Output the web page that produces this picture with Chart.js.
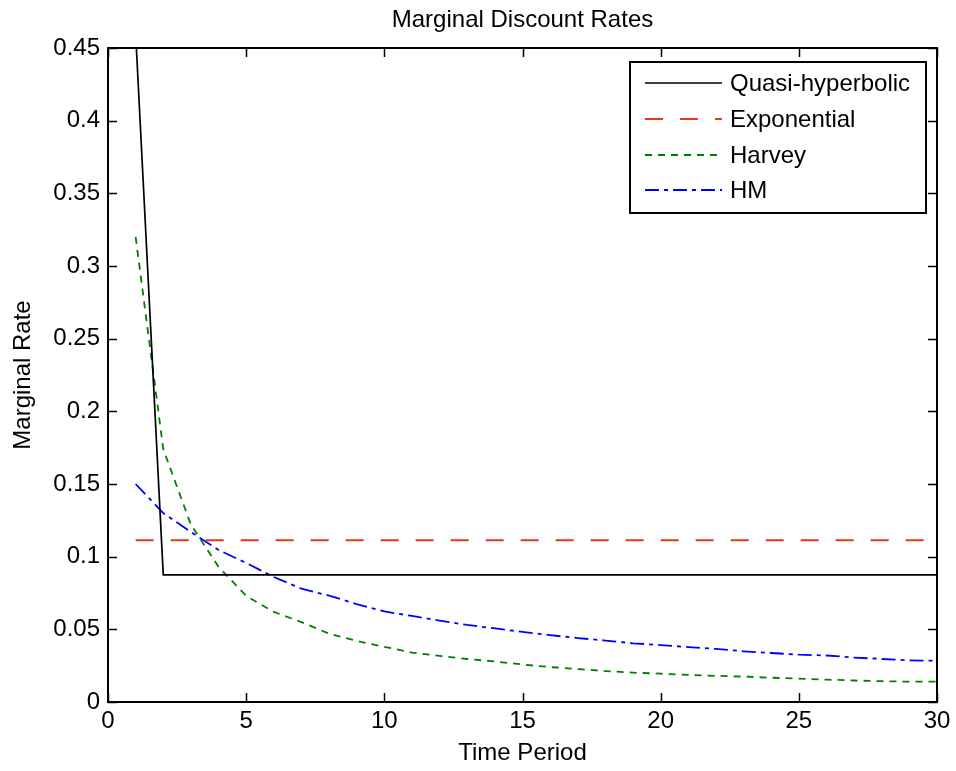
<!DOCTYPE html>
<html>
<head>
<meta charset="utf-8">
<script src="https://cdn.jsdelivr.net/npm/chart.js@4.4.1/dist/chart.umd.min.js"></script>
<style>
    html, body { margin: 0; padding: 0; background: #fff; }
    #wrap { width: 956px; height: 771px; }
</style>
</head>
<body>
<div id="wrap"><canvas id="rateChart" width="956" height="771"></canvas></div>
<script>
const periods = [1,2,3,4,5,6,7,8,9,10,11,12,13,14,15,16,17,18,19,20,21,22,23,24,25,26,27,28,29,30];

const quasiHyperbolic = [0.46,0.0875,0.0875,0.0875,0.0875,0.0875,0.0875,0.0875,0.0875,0.0875,
    0.0875,0.0875,0.0875,0.0875,0.0875,0.0875,0.0875,0.0875,0.0875,0.0875,
    0.0875,0.0875,0.0875,0.0875,0.0875,0.0875,0.0875,0.0875,0.0875,0.0875];
const exponential = [0.1113,0.1113,0.1113,0.1113,0.1113,0.1113,0.1113,0.1113,0.1113,0.1113,
    0.1113,0.1113,0.1113,0.1113,0.1113,0.1113,0.1113,0.1113,0.1113,0.1113,
    0.1113,0.1113,0.1113,0.1113,0.1113,0.1113,0.1113,0.1113,0.1113,0.1113];
const harvey = [0.32,0.174,0.122,0.093,0.073,0.062,0.055,0.047,0.042,0.038,
    0.034,0.0317,0.0296,0.0279,0.0258,0.024,0.0227,0.0213,0.0202,0.0195,
    0.0186,0.018,0.0175,0.0167,0.0161,0.0154,0.0148,0.0143,0.014,0.014];
const hm = [0.150,0.130,0.117,0.1046,0.0957,0.086,0.078,0.0732,0.0674,0.0623,
    0.0592,0.056,0.053,0.0506,0.0483,0.046,0.044,0.0423,0.0404,0.0392,
    0.0378,0.0365,0.0349,0.0337,0.0326,0.032,0.0306,0.0296,0.0286,0.0284];

const seriesNames = ['Quasi-hyperbolic', 'Exponential', 'Harvey', 'HM'];
const xTickLabels = ['0', '5', '10', '15', '20', '25', '30'];
const yTickLabels = ['0', '0.05', '0.1', '0.15', '0.2', '0.25', '0.3', '0.35', '0.4', '0.45'];

const FONT = '"Liberation Sans", Arial, Helvetica, sans-serif';

function toPoints(values) {
    return values.map(function(v, i) { return {x: periods[i], y: v}; });
}

const data = {
    datasets: [{
        label: seriesNames[0],
        data: toPoints(quasiHyperbolic),
        borderColor: '#000000',
        borderWidth: 1.7,
        borderDash: []
    }, {
        label: seriesNames[1],
        data: toPoints(exponential),
        borderColor: 'rgb(230,56,22)',
        borderWidth: 1.8,
        borderDash: [18, 17]
    }, {
        label: seriesNames[2],
        data: toPoints(harvey),
        borderColor: 'rgb(0,128,0)',
        borderWidth: 1.8,
        borderDash: [7, 6]
    }, {
        label: seriesNames[3],
        data: toPoints(hm),
        borderColor: '#0000ff',
        borderWidth: 1.8,
        borderDash: [14, 5, 4, 5]
    }]
};

// box, inward ticks, title, axis titles and legend like a matlab figure
const matlabFrame = {
    id: 'matlabFrame',
    afterDatasetsDraw(chart) {
        const ctx = chart.ctx;
        const a = chart.chartArea;
        const xs = chart.scales.x;
        const ys = chart.scales.y;
        const tick = 9;

        ctx.save();
        ctx.strokeStyle = '#000';
        ctx.lineWidth = 1.5;
        ctx.beginPath();
        xs.ticks.forEach(function(t) {
            const px = Math.round(xs.getPixelForValue(t.value)) + 0.5;
            ctx.moveTo(px, a.bottom); ctx.lineTo(px, a.bottom - tick);
            ctx.moveTo(px, a.top); ctx.lineTo(px, a.top + tick);
        });
        ys.ticks.forEach(function(t) {
            const py = Math.round(ys.getPixelForValue(t.value)) + 0.5;
            ctx.moveTo(a.left, py); ctx.lineTo(a.left + tick, py);
            ctx.moveTo(a.right, py); ctx.lineTo(a.right - tick, py);
        });
        ctx.stroke();

        ctx.lineWidth = 2;
        ctx.strokeRect(a.left, a.top, a.right - a.left, a.bottom - a.top);

        ctx.fillStyle = '#000';
        ctx.font = '24px ' + FONT;
        ctx.textAlign = 'center';
        ctx.textBaseline = 'middle';
        ctx.fillText('Marginal Discount Rates', (a.left + a.right) / 2, 20);
        ctx.fillText('Time Period', (a.left + a.right) / 2, 753);
        ctx.save();
        ctx.translate(23, (a.top + a.bottom) / 2);
        ctx.rotate(-Math.PI / 2);
        ctx.fillText('Marginal Rate', 0, 0);
        ctx.restore();

        // legend
        const lx = 630, ly = 62, lw = 296, lh = 151;
        ctx.fillStyle = '#fff';
        ctx.fillRect(lx, ly, lw, lh);
        ctx.lineWidth = 2;
        ctx.strokeStyle = '#000';
        ctx.strokeRect(lx, ly, lw, lh);
        const rows = [83, 119, 155, 190];
        chart.data.datasets.forEach(function(ds, i) {
            ctx.save();
            ctx.strokeStyle = ds.borderColor;
            ctx.lineWidth = ds.borderWidth;
            ctx.setLineDash(ds.borderDash);
            ctx.beginPath();
            ctx.moveTo(645, rows[i]);
            ctx.lineTo(722, rows[i]);
            ctx.stroke();
            ctx.restore();
            ctx.fillStyle = '#000';
            ctx.textAlign = 'left';
            ctx.fillText(ds.label, 730, rows[i] + 1);
        });
        ctx.restore();
    }
};

const config = {
    type: 'line',
    data,
    options: {
        responsive: false,
        animation: false,
        devicePixelRatio: 1,
        layout: {
            padding: { left: 0, right: 19, top: 48, bottom: 0 }
        },
        elements: {
            point: { radius: 0 },
            line: { tension: 0, fill: false }
        },
        plugins: {
            legend: { display: false },
            title: { display: false },
            tooltip: { enabled: false }
        },
        scales: {
            x: {
                type: 'linear',
                min: 0,
                max: 30,
                grid: { display: false, drawTicks: false },
                border: { display: false },
                ticks: {
                    stepSize: 5,
                    padding: 5,
                    color: '#000',
                    font: { family: FONT, size: 24 },
                    maxRotation: 0,
                    callback: function(v, i) { return xTickLabels[i]; }
                },
                afterFit: function(s) { s.height = 69; }
            },
            y: {
                min: 0,
                max: 0.45,
                grid: { display: false, drawTicks: false },
                border: { display: false },
                ticks: {
                    stepSize: 0.05,
                    padding: 8,
                    color: '#000',
                    font: { family: FONT, size: 24 },
                    callback: function(v, i) { return yTickLabels[i]; }
                },
                afterFit: function(s) { s.width = 108; }
            }
        }
    },
    plugins: [matlabFrame]
};

const myRateChart = new Chart(
    document.getElementById('rateChart'),
    config
);
</script>
</body>
</html>
